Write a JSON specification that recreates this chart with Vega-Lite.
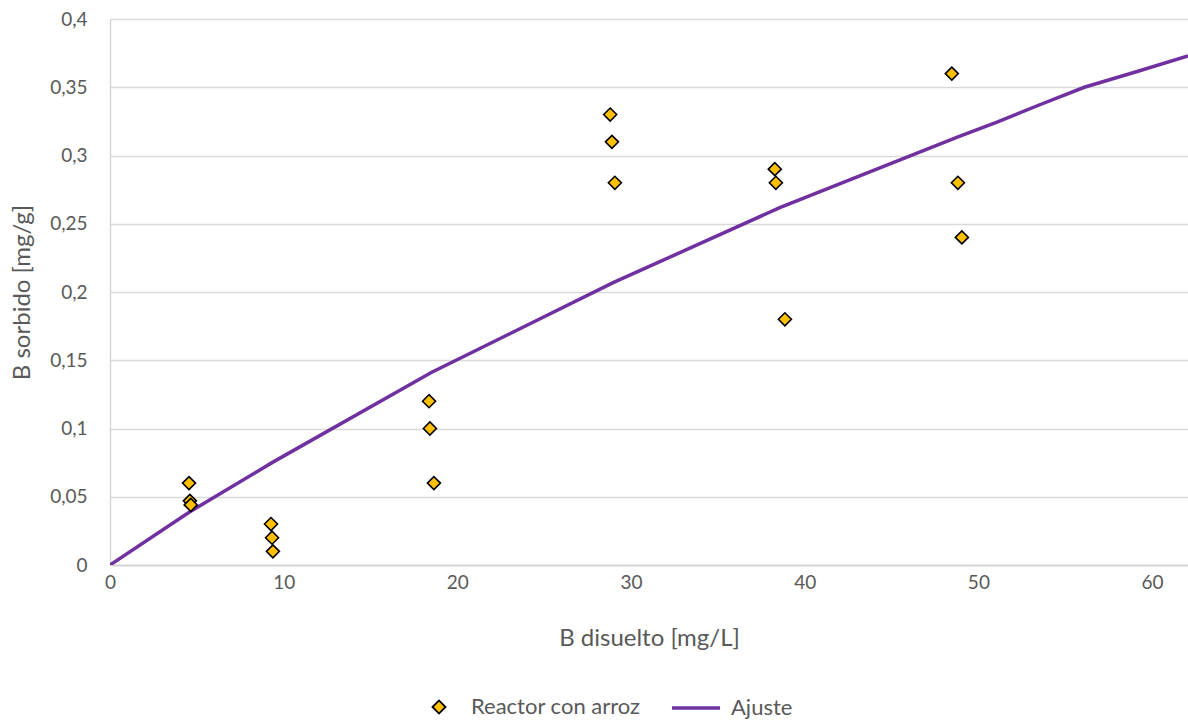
{
  "$schema": "https://vega.github.io/schema/vega-lite/v6.json",
  "width": 1078,
  "height": 546,
  "autosize": {"type": "none"},
  "padding": {"left": 110, "top": 19, "right": 0, "bottom": 155},
  "background": "white",
  "config": {
    "view": {"stroke": null},
    "font": "Lato",
    "axis": {
      "labelFont": "Lato",
      "titleFont": "Lato",
      "labelColor": "#595959",
      "titleColor": "#595959",
      "labelFontSize": 19,
      "titleFontSize": 24,
      "titleFontWeight": "normal",
      "domainColor": "#D0D0D0",
      "domainWidth": 1.3,
      "gridColor": "#D9D9D9",
      "gridWidth": 1.3,
      "ticks": false,
      "labelFlush": false
    },
    "legend": {
      "labelFont": "Lato",
      "labelColor": "#595959",
      "labelFontSize": 22,
      "labelLimit": 400,
      "padding": 0,
      "orient": "none",
      "direction": "horizontal"
    }
  },
  "datasets": {
    "medidas": [
      {"c": 4.55, "q": 0.060, "serie": "Reactor con arroz"},
      {"c": 4.60, "q": 0.047, "serie": "Reactor con arroz"},
      {"c": 4.65, "q": 0.044, "serie": "Reactor con arroz"},
      {"c": 9.27, "q": 0.030, "serie": "Reactor con arroz"},
      {"c": 9.33, "q": 0.020, "serie": "Reactor con arroz"},
      {"c": 9.38, "q": 0.010, "serie": "Reactor con arroz"},
      {"c": 18.37, "q": 0.120, "serie": "Reactor con arroz"},
      {"c": 18.42, "q": 0.100, "serie": "Reactor con arroz"},
      {"c": 18.65, "q": 0.060, "serie": "Reactor con arroz"},
      {"c": 28.80, "q": 0.330, "serie": "Reactor con arroz"},
      {"c": 28.90, "q": 0.310, "serie": "Reactor con arroz"},
      {"c": 29.07, "q": 0.280, "serie": "Reactor con arroz"},
      {"c": 38.28, "q": 0.290, "serie": "Reactor con arroz"},
      {"c": 38.34, "q": 0.280, "serie": "Reactor con arroz"},
      {"c": 38.86, "q": 0.180, "serie": "Reactor con arroz"},
      {"c": 48.47, "q": 0.360, "serie": "Reactor con arroz"},
      {"c": 48.82, "q": 0.280, "serie": "Reactor con arroz"},
      {"c": 49.05, "q": 0.240, "serie": "Reactor con arroz"}
    ],
    "ajuste": [
      {"c": 0, "q": 0, "serie": "Ajuste"},
      {"c": 4.6, "q": 0.039, "serie": "Ajuste"},
      {"c": 9.33, "q": 0.075, "serie": "Ajuste"},
      {"c": 18.5, "q": 0.141, "serie": "Ajuste"},
      {"c": 29.0, "q": 0.207, "serie": "Ajuste"},
      {"c": 38.6, "q": 0.262, "serie": "Ajuste"},
      {"c": 48.9, "q": 0.314, "serie": "Ajuste"},
      {"c": 51.0, "q": 0.324, "serie": "Ajuste"},
      {"c": 53.5, "q": 0.337, "serie": "Ajuste"},
      {"c": 56.1, "q": 0.350, "serie": "Ajuste"},
      {"c": 59.0, "q": 0.361, "serie": "Ajuste"},
      {"c": 62.07, "q": 0.373, "serie": "Ajuste"}
    ]
  },
  "encoding": {
    "x": {
      "field": "c",
      "type": "quantitative",
      "title": "B disuelto [mg/L]",
      "scale": {"domain": [0, 62.07], "nice": false},
      "axis": {
        "values": [0, 10, 20, 30, 40, 50, 60],
        "grid": false,
        "labelPadding": 8,
        "titleY": 80,
        "titleBaseline": "alphabetic"
      }
    },
    "y": {
      "field": "q",
      "type": "quantitative",
      "title": "B sorbido [mg/g]",
      "scale": {"domain": [0, 0.4], "nice": false},
      "axis": {
        "values": [0, 0.05, 0.1, 0.15, 0.2, 0.25, 0.3, 0.35, 0.4],
        "labelExpr": "replace(format(datum.value, '.2~f'), '.', ',')",
        "labelPadding": 23,
        "titleX": -88,
        "titleBaseline": "middle"
      }
    }
  },
  "layer": [
    {
      "data": {"name": "ajuste"},
      "mark": {"type": "line", "strokeWidth": 3.5, "clip": true},
      "encoding": {
        "color": {
          "field": "serie",
          "type": "nominal",
          "scale": {"domain": ["Ajuste"], "range": ["#7030A0"]},
          "legend": {
            "title": null,
            "legendX": 560,
            "legendY": 663,
            "symbolType": "stroke",
            "symbolSize": 2304,
            "symbolStrokeWidth": 3.5,
            "labelOffset": 9
          }
        }
      }
    },
    {
      "data": {"name": "medidas"},
      "mark": {"type": "point", "shape": "diamond", "size": 170, "filled": true, "stroke": "#000000", "strokeWidth": 1.6, "opacity": 1},
      "encoding": {
        "fill": {
          "field": "serie",
          "type": "nominal",
          "scale": {"domain": ["Reactor con arroz"], "range": ["#FFC000"]},
          "legend": {
            "title": null,
            "legendX": 318,
            "legendY": 677,
            "symbolType": "diamond",
            "symbolSize": 170,
            "symbolStrokeColor": "#000000",
            "symbolStrokeWidth": 1.8,
            "labelOffset": 21
          }
        }
      }
    }
  ]
}
